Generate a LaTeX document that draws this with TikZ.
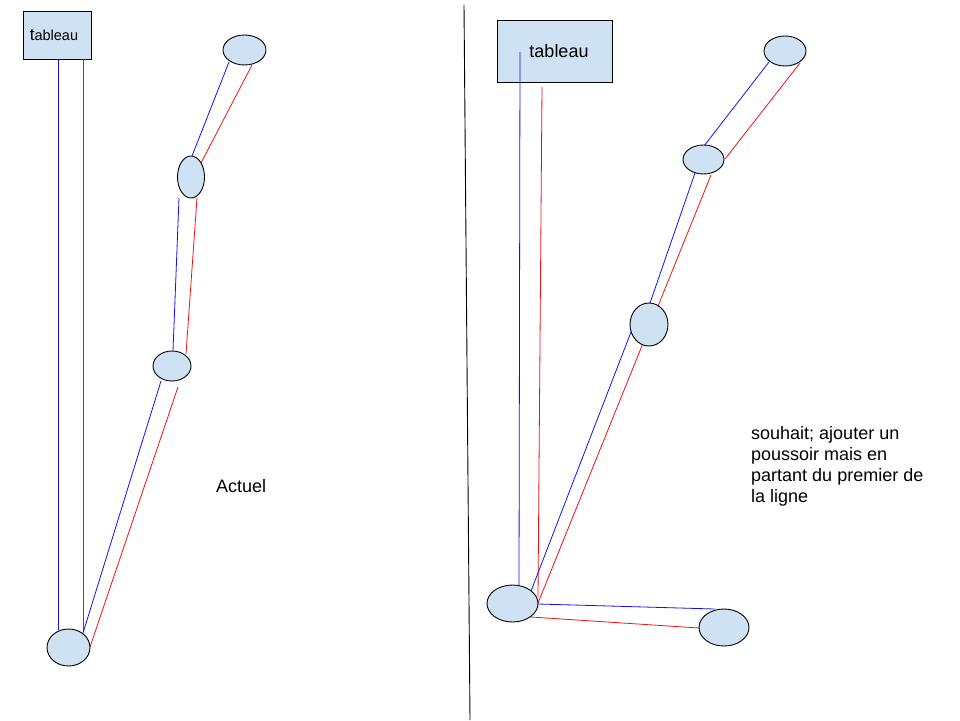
\documentclass[tikz,border=0pt]{standalone}
\usepackage{fontspec}
\setmainfont{Liberation Sans}
\usetikzlibrary{shapes.geometric}
\definecolor{nodefill}{HTML}{CFE2F3}
\definecolor{wireblue}{HTML}{1010F0}
\definecolor{wirered}{HTML}{F01010}
\begin{document}
\begin{tikzpicture}[x=1pt,y=-1pt,
  blob/.style={ellipse,draw=black,fill=nodefill,line width=0.9pt,inner sep=0pt},
  panel/.style={rectangle,draw=black,fill=nodefill,line width=0.9pt,inner sep=0pt},
  bw/.style={draw=wireblue,line width=0.8pt},
  rw/.style={draw=wirered,line width=0.8pt},
  lbl/.style={inner sep=0pt,anchor=base west,font=\fontsize{18}{20.7}\selectfont}]
\useasboundingbox (0,0) rectangle (960,720);
% ---------- boxes ----------
\node[panel,minimum width=68pt,minimum height=48pt] (boxL) at (57,35)
  {\hspace*{-6pt}{\fontsize{17}{20}\selectfont t}{\fontsize{14.5}{17}\selectfont ableau}};
\node[panel,minimum width=115pt,minimum height=62pt] (boxR) at (554.5,51)
  {\hspace*{9pt}\fontsize{18}{21}\selectfont tableau};
% ---------- left wires ----------
\coordinate (l1a) at (58,59);   \coordinate (l1b) at (58,630);
\coordinate (l2a) at (83,59);   \coordinate (l2b) at (83,632);
\coordinate (l3a) at (229,62);  \coordinate (l3b) at (192,156);
\coordinate (l4a) at (252,65);  \coordinate (l4b) at (201,163);
\coordinate (l5a) at (179,198); \coordinate (l5b) at (173,351);
\coordinate (l6a) at (197,198); \coordinate (l6b) at (186,354);
\coordinate (l7a) at (161,381); \coordinate (l7b) at (83,633);
\coordinate (l8a) at (178,387); \coordinate (l8b) at (90,647);
\draw[bw] (l1a) -- (l1b);
\draw[rw] (l2a) -- (l2b);
\draw[bw] (l3a) -- (l3b);
\draw[rw] (l4a) -- (l4b);
\draw[bw] (l5a) -- (l5b);
\draw[rw] (l6a) -- (l6b);
\draw[bw] (l7a) -- (l7b);
\draw[rw] (l8a) -- (l8b);
% ---------- divider ----------
\coordinate (divtop) at (464,5);
\coordinate (divbot) at (470,720);
\draw[black,line width=0.9pt] (divtop) -- (divbot);
% ---------- right wires ----------
\coordinate (r1a) at (520,52);  \coordinate (r1b) at (519,586);
\coordinate (r2a) at (542,87);  \coordinate (r2b) at (538,597);
\coordinate (r3a) at (769,62);  \coordinate (r3b) at (704,146);
\coordinate (r4a) at (800,63);  \coordinate (r4b) at (725,159);
\coordinate (r5a) at (695,173); \coordinate (r5b) at (650,303);
\coordinate (r6a) at (631,332); \coordinate (r6b) at (531,591);
\coordinate (r7a) at (711,175); \coordinate (r7b) at (538,603);
\coordinate (r8a) at (538,604); \coordinate (r8b) at (715,609);
\coordinate (r9a) at (531,617); \coordinate (r9b) at (699,628);
\draw[bw] (r1a) -- (r1b);
\draw[rw] (r2a) -- (r2b);
\draw[bw] (r3a) -- (r3b);
\draw[rw] (r4a) -- (r4b);
\draw[bw] (r5a) -- (r5b);
\draw[bw] (r6a) -- (r6b);
\draw[rw] (r7a) -- (r7b);
\draw[bw] (r8a) -- (r8b);
\draw[rw] (r9a) -- (r9b);
% ---------- ellipses (on top of wires) ----------
\node[blob,minimum width=43pt,minimum height=30pt] (LA) at (244.5,50) {};
\node[blob,minimum width=27pt,minimum height=42pt] (LB) at (191,177) {};
\node[blob,minimum width=38pt,minimum height=30pt] (LC) at (172,366) {};
\node[blob,minimum width=43pt,minimum height=37pt] (LD) at (68.5,647.5) {};
\node[blob,minimum width=42pt,minimum height=30pt] (RE) at (785,51) {};
\node[blob,minimum width=41pt,minimum height=29pt] (RF) at (703.5,159.5) {};
\node[blob,minimum width=38pt,minimum height=43pt] (RG) at (649,324.5) {};
\node[blob,minimum width=51pt,minimum height=37pt] (RH) at (512.5,603.5) {};
\node[blob,minimum width=50pt,minimum height=37pt] (RI) at (724,627.5) {};
% ---------- labels ----------
\node[lbl] (actuel) at (216,492) {Actuel};
\node[lbl,align=left] (wish) at (751,502)
  {souhait; ajouter un\\poussoir mais en\\partant du premier de\\la ligne};
\end{tikzpicture}
\end{document}
